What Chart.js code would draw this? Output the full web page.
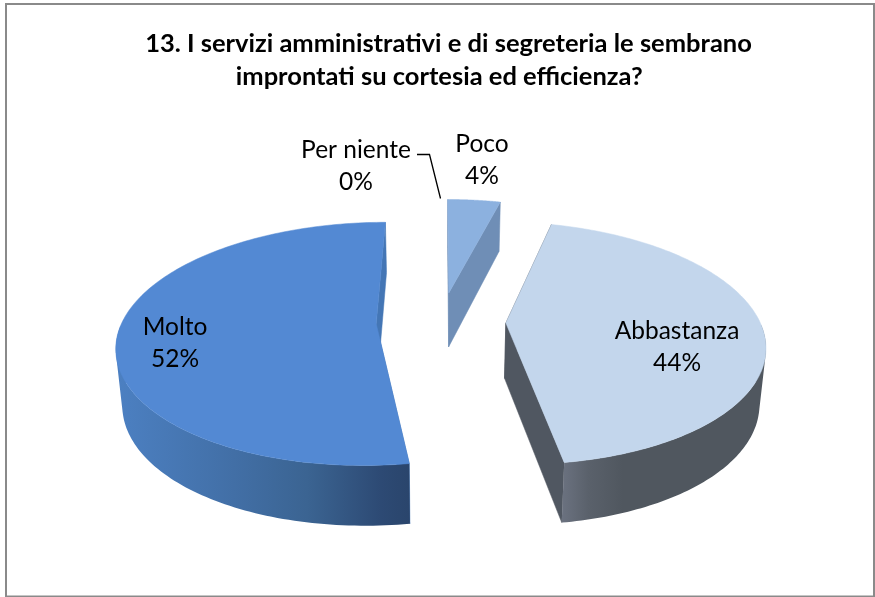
<!DOCTYPE html>
<html>
<head>
<meta charset="utf-8">
<style>html,body{margin:0;padding:0;background:#fff}canvas{display:block}</style>
<script src="https://cdn.jsdelivr.net/npm/chart.js@4"></script>
</head>
<body>
<canvas id="c" width="875" height="597"></canvas>
<script>
const titleLines = ['13. I servizi amministrativi e di segreteria le sembrano', 'improntati su cortesia ed efficienza?   '];
const categories = ['Per niente', 'Poco', 'Abbastanza', 'Molto'];
const sliceValues = [0, 4, 43.6, 52.4];
const topColors = ['#4f81bd', '#8cb1df', '#c3d6ec', '#5389d3'];
const cutColors = ['#3f6797', '#6f8eb6', '#505761', '#4476b5'];
const sideStops = [
  [[0, '#3f6797'], [1, '#3f6797']],
  [[0, '#6f8eb6'], [1, '#6f8eb6']],
  [[0, '#6b7280'], [0.13, '#5a616b'], [0.3, '#50575f'], [1, '#50575f']],
  [[0, '#4c80c2'], [0.4, '#426fa6'], [0.65, '#3b6492'], [0.9, '#2d4a74'], [1, '#2a456c']]
];
const labelCentres = [[356, 166], [482, 160], [677, 347], [175, 343]];

const view = {cx: 441, cy: 321.5, f: 254, g: 117.5, k: 0.165, explode: 0.255, depth: 55.2, depthSlope: 4.95, shrink: 0.02};

function project(X, Y) {
  const w = 1 - view.k * Y;
  return {x: view.cx + view.f * X / w, y: view.cy + view.g * Y / w};
}
function lower(p, Y) {
  return {x: view.cx + (p.x - view.cx) * (1 - view.shrink), y: p.y + view.depth + view.depthSlope * Y};
}
function poly(ctx, pts, fill) {
  ctx.beginPath();
  pts.forEach((p, i) => i ? ctx.lineTo(p.x, p.y) : ctx.moveTo(p.x, p.y));
  ctx.closePath();
  ctx.fillStyle = fill;
  ctx.fill();
  ctx.strokeStyle = fill;
  ctx.lineWidth = 0.5;
  ctx.stroke();
}
function signedArea(q) {
  let a = 0;
  q.forEach((p, i) => { const r = q[(i + 1) % q.length]; a += p.x * r.y - r.x * p.y; });
  return a;
}

const pie3d = {
  id: 'pie3d',
  beforeDraw(chart) {
    const ctx = chart.ctx;
    ctx.save();
    ctx.fillStyle = '#fff';
    ctx.fillRect(0, 0, chart.width, chart.height);
    ctx.strokeStyle = '#8a8a8a';
    ctx.lineWidth = 2;
    ctx.strokeRect(6, 4, 868, 592.5);
    ctx.restore();
  },
  beforeDatasetDraw(chart, args) {
    const ctx = chart.ctx;
    const arcs = chart.getDatasetMeta(args.index).data;
    ctx.save();
    arcs.forEach((arc, i) => {
      if (arc.endAngle - arc.startAngle <= 0) return;
      const mid = (arc.startAngle + arc.endAngle) / 2;
      const ox = view.explode * Math.cos(mid), oy = view.explode * Math.sin(mid);
      const top = [], bottom = [], front = [];
      const n = 160;
      for (let s = 0; s <= n; s++) {
        const a = arc.startAngle + (arc.endAngle - arc.startAngle) * s / n;
        const Y = oy + Math.sin(a);
        const p = project(ox + Math.cos(a), Y);
        top.push(p);
        bottom.push(lower(p, Y));
        front.push(Math.sin(a) > 0);
      }
      const tip = project(ox, oy), tipLow = lower(tip, oy);
      poly(ctx, [tip, top[0], bottom[0], tipLow], cutColors[i]);
      poly(ctx, [tip, top[n], bottom[n], tipLow], cutColors[i]);
      const xs = top.concat(bottom).filter((p, j) => front[j % (n + 1)]).map(p => p.x);
      if (xs.length) {
        const grad = ctx.createLinearGradient(Math.min(...xs), 0, Math.max(...xs), 0);
        sideStops[i].forEach(s => grad.addColorStop(s[0], s[1]));
        ctx.beginPath();
        for (let s = 0; s < n; s++) {
          if (!(front[s] && front[s + 1])) continue;
          let q = [top[s], top[s + 1], bottom[s + 1], bottom[s]];
          if (signedArea(q) < 0) q = q.reverse();
          q.forEach((p, j) => j ? ctx.lineTo(p.x, p.y) : ctx.moveTo(p.x, p.y));
          ctx.closePath();
        }
        ctx.fillStyle = grad;
        ctx.fill('nonzero');
      }
      poly(ctx, [tip].concat(top), arc.options.backgroundColor);
    });
    ctx.restore();
    return false;
  },
  afterDatasetsDraw(chart) {
    const ctx = chart.ctx;
    ctx.save();
    ctx.strokeStyle = '#000';
    ctx.lineWidth = 1.3;
    ctx.beginPath();
    ctx.moveTo(417, 154.5);
    ctx.lineTo(429.5, 154.5);
    ctx.lineTo(440.5, 198.5);
    ctx.stroke();
    ctx.fillStyle = '#000';
    ctx.font = '24.5px Lato';
    ctx.textAlign = 'center';
    ctx.textBaseline = 'middle';
    categories.forEach((name, i) => {
      const c = labelCentres[i];
      ctx.fillText(name, c[0], c[1] - 16);
      ctx.fillText(Math.round(sliceValues[i]) + '%', c[0], c[1] + 16);
    });
    ctx.restore();
  }
};

new Chart(document.getElementById('c'), {
  type: 'pie',
  data: {
    labels: categories,
    datasets: [{data: sliceValues, backgroundColor: topColors, borderWidth: 0}]
  },
  options: {
    responsive: false,
    animation: false,
    layout: {padding: {left: 22, top: 0, right: 0, bottom: 0}},
    plugins: {
      legend: {display: false},
      tooltip: {enabled: false},
      title: {
        display: true,
        text: titleLines,
        color: '#000',
        font: {family: 'Lato', weight: 'bold', size: 25.5, lineHeight: 1.3},
        padding: {top: 27, bottom: 10}
      }
    }
  },
  plugins: [pie3d]
});
</script>
</body>
</html>
